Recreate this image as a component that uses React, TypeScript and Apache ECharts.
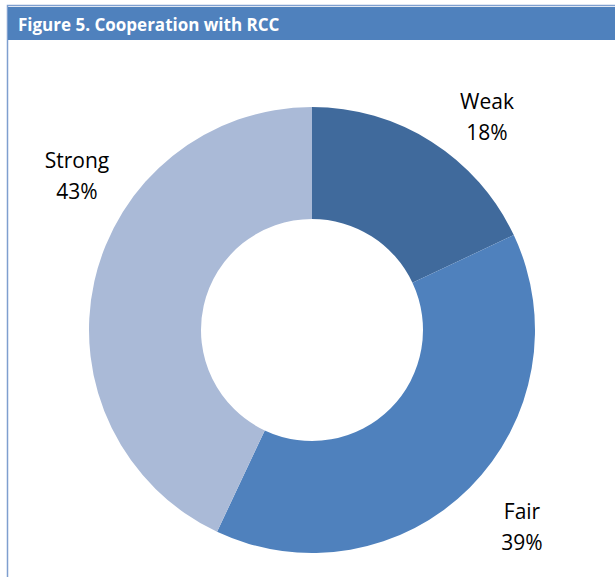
import React, { useEffect, useRef } from "react";
import * as echarts from "echarts";

const categories = ["Weak", "Fair", "Strong"];
const values = [18, 39, 43];
const colors = ["#406A9C", "#4F81BD", "#AABAD7"];
const labelPos = [
  [487, 116],
  [522, 526],
  [77, 175],
];

export default function App() {
  const ref = useRef<HTMLDivElement>(null);
  useEffect(() => {
    const chart = echarts.init(ref.current!, null, { renderer: "svg" });
    chart.setOption({
      animation: false,
      backgroundColor: "#ffffff",
      graphic: [
        { type: "rect", shape: { x: 7.5, y: 5.5, width: 620, height: 580 }, style: { fill: "none", stroke: "#7F9FCF", lineWidth: 1.5 } },
        { type: "rect", shape: { x: 8, y: 7, width: 607, height: 33 }, style: { fill: "#4F81BD" } },
        {
          type: "text",
          x: 18,
          y: 24,
          style: {
            text: "Figure 5. Cooperation with RCC",
            fill: "#ffffff",
            font: "bold 17px 'Open Sans'",
            verticalAlign: "middle",
          },
        },
      ],
      series: [
        {
          type: "pie",
          center: [312, 330],
          radius: [111, 223],
          startAngle: 90,
          clockwise: true,
          data: categories.map((c, i) => ({ name: c, value: values[i], itemStyle: { color: colors[i] } })),
          label: {
            show: true,
            position: "outside",
            formatter: "{b}\n{c}%",
            color: "#000000",
            fontFamily: "Open Sans",
            fontSize: 21,
            lineHeight: 31,
            align: "center",
            overflow: "none",
          },
          labelLine: { show: false },
          labelLayout: (p: any) => ({ x: labelPos[p.dataIndex][0], y: labelPos[p.dataIndex][1], align: "center", verticalAlign: "middle", hideOverlap: false }),
          emphasis: { disabled: true },
        },
      ],
    });
    return () => chart.dispose();
  }, []);
  return <div ref={ref} style={{ position: "absolute", left: 0, top: 0, width: 615, height: 577 }} />;
}
